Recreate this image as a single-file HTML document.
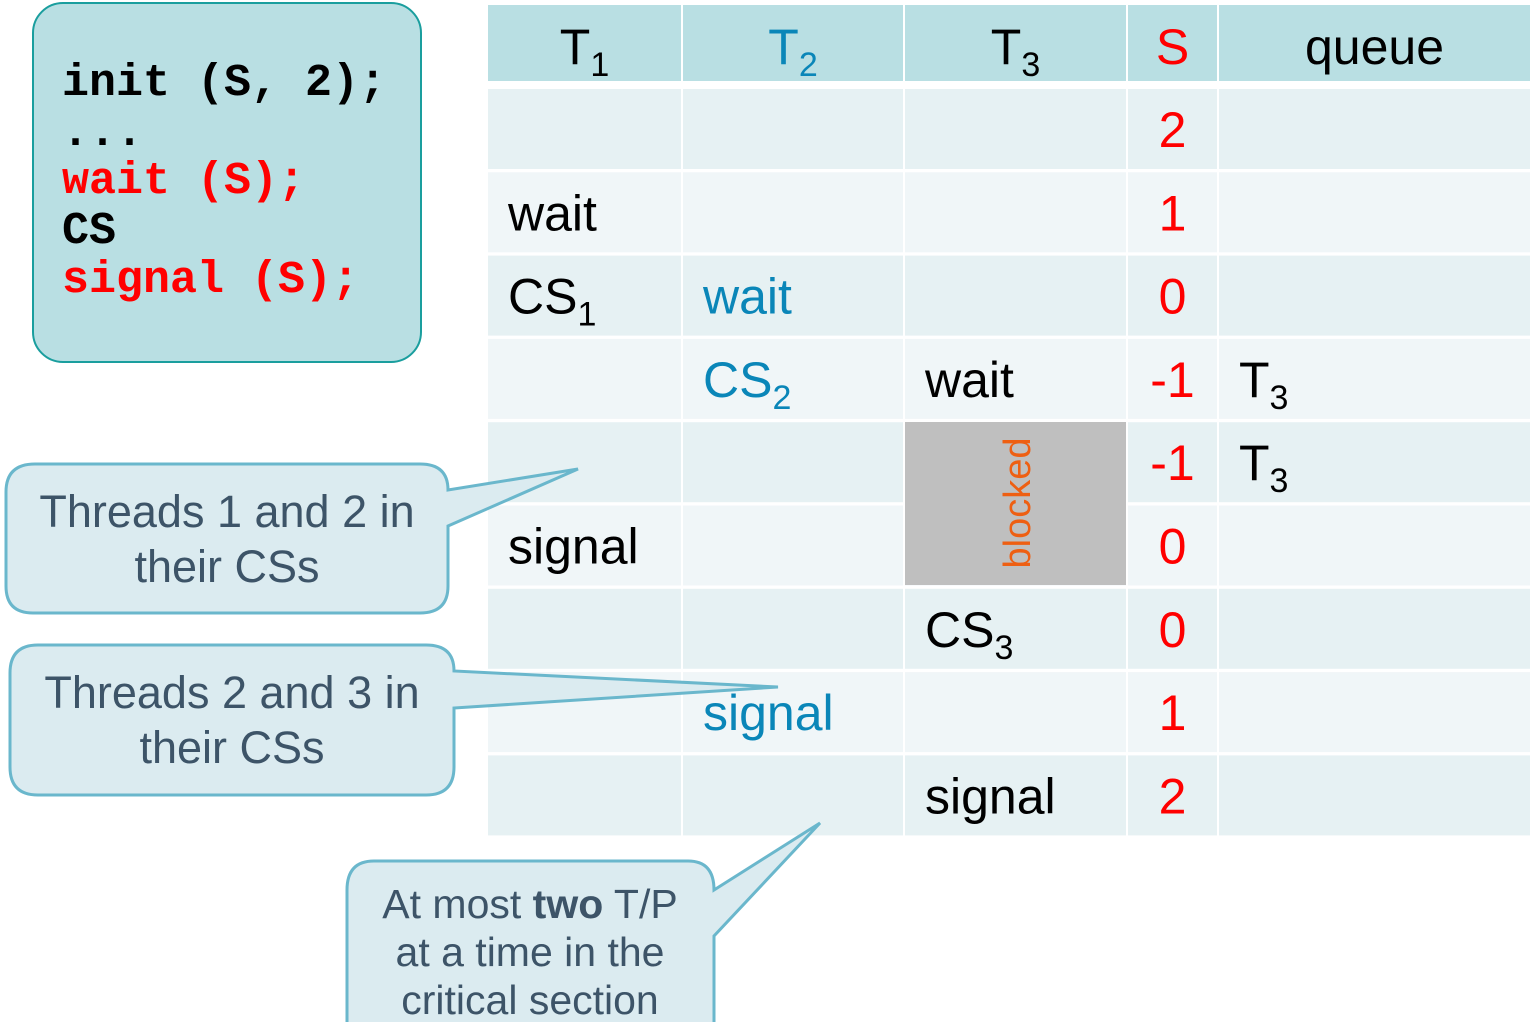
<!DOCTYPE html>
<html><head><meta charset="utf-8">
<style>
html,body{margin:0;padding:0;background:#fff;}
svg{display:block;}
text{font-family:"Liberation Sans",sans-serif;}
.code{font-family:"Liberation Mono",monospace;font-weight:bold;font-size:45px;}
.call{font-size:45px;fill:#3d5468;}
</style></head>
<body>
<svg id="slide" width="1536" height="1022" viewBox="0 0 1536 1022">
  <g>
    <rect x="33" y="3" width="388" height="359" rx="30" fill="#b9dfe3" stroke="#1a9e9e" stroke-width="2"/>
    <text class="code" x="62" y="95" fill="#000">init (S, 2);</text>
    <text class="code" x="62" y="145" fill="#000">...</text>
    <text class="code" x="62" y="193" fill="#f00">wait (S);</text>
    <text class="code" x="62" y="243" fill="#000">CS</text>
    <text class="code" x="62" y="292" fill="#f00">signal (S);</text>
  </g>
  <g id="table"></g>
  <g>
    <path d="M35,464 H420 Q448,464 448,490 L578,469 L448,526 V586 Q448,613 420,613 H33 Q6,613 6,586 V492 Q6,464 35,464 Z" fill="#dbebf0" stroke="#6ab7cc" stroke-width="3"/>
    <text class="call" x="227" y="527" text-anchor="middle">Threads 1 and 2 in</text>
    <text class="call" x="227" y="582" text-anchor="middle">their CSs</text>
  </g>
  <g>
    <path d="M38,645 H426 Q454,645 454,671 L778,687 L454,708 V767 Q454,795 426,795 H38 Q10,795 10,767 V673 Q10,645 38,645 Z" fill="#dbebf0" stroke="#6ab7cc" stroke-width="3"/>
    <text class="call" x="232" y="708" text-anchor="middle">Threads 2 and 3 in</text>
    <text class="call" x="232" y="763" text-anchor="middle">their CSs</text>
  </g>
  <g>
    <path d="M374,861 H688 Q714,861 714,890 L820,823 L714,936 V1030 H347 V890 Q347,861 374,861 Z" fill="#dbebf0" stroke="#6ab7cc" stroke-width="3"/>
    <text class="call" x="530" y="918" text-anchor="middle" style="font-size:41px">At most <tspan font-weight="bold">two</tspan> T/P</text>
    <text class="call" x="530" y="966" text-anchor="middle" style="font-size:41px">at a time in the</text>
    <text class="call" x="530" y="1014" text-anchor="middle" style="font-size:41px">critical section</text>
  </g>
</svg>
<script>
const headers = ["T|1","T|2","T|3","S","queue"];
const colT1 = ["","wait","CS|1","","","signal","","",""];
const colT2 = ["","","wait","CS|2","","","","signal",""];
const colT3 = ["","","","wait","","","CS|3","","signal"];
const colS = ["2","1","0","-1","-1","0","0","1","2"];
const colQueue = ["","","","T|3","T|3","","","",""];

const NS = "http://www.w3.org/2000/svg";
const tbl = document.getElementById("table");
const colX = [488,683,905,1128,1219];
const colW = [193,220,221,89,311];
const headColor = ["#000","#0a86b8","#000","#f00","#000"];
const colColor = ["#000","#0a86b8","#000","#f00","#000"];
const rowTop = r => 89 + r*83.3;
function mk(tag, attrs){const e=document.createElementNS(NS,tag);for(const k in attrs)e.setAttribute(k,attrs[k]);return e;}
function label(str,x,y,fill,anchor){
  const t = mk("text",{x:x,y:y,fill:fill,"font-size":50,"text-anchor":anchor});
  const parts = str.split("|");
  t.appendChild(document.createTextNode(parts[0]));
  if(parts[1]){const s=mk("tspan",{dy:12,"font-size":34});s.textContent=parts[1];t.appendChild(s);}
  return t;
}
headers.forEach((h,i)=>{
  const r = mk("rect",{x:colX[i],y:5,width:colW[i],height:76,fill:"#b9dfe3"});
  
  
  tbl.appendChild(r);
  const t = label(h,colX[i]+colW[i]/2,64,headColor[i],"middle");
  
  
  tbl.appendChild(t);
});
const cols = [colT1,colT2,colT3,colS,colQueue];
colS.forEach((_,r)=>{
  const y = rowTop(r);
  cols.forEach((col,i)=>{
    const rc = mk("rect",{x:colX[i],y:y,width:colW[i],height:80,fill:r%2===0?"#e6f1f3":"#f0f6f8"});
    
    
    tbl.appendChild(rc);
    if(col[r]){
      const centered = i===3;
      const t = label(col[r], centered?colX[i]+colW[i]/2:colX[i]+20, y+58, colColor[i], centered?"middle":"start");
      
      
      tbl.appendChild(t);
    }
  });
});
const bl = mk("rect",{x:905,y:422,width:221,height:163,fill:"#bfbfbf"});


tbl.appendChild(bl);
const bt = mk("text",{x:0,y:0,fill:"#ee5f12","font-size":38,"text-anchor":"middle",transform:"translate(1030,503) rotate(-90)"});
bt.textContent="blocked";


tbl.appendChild(bt);
</script>
</body></html>
